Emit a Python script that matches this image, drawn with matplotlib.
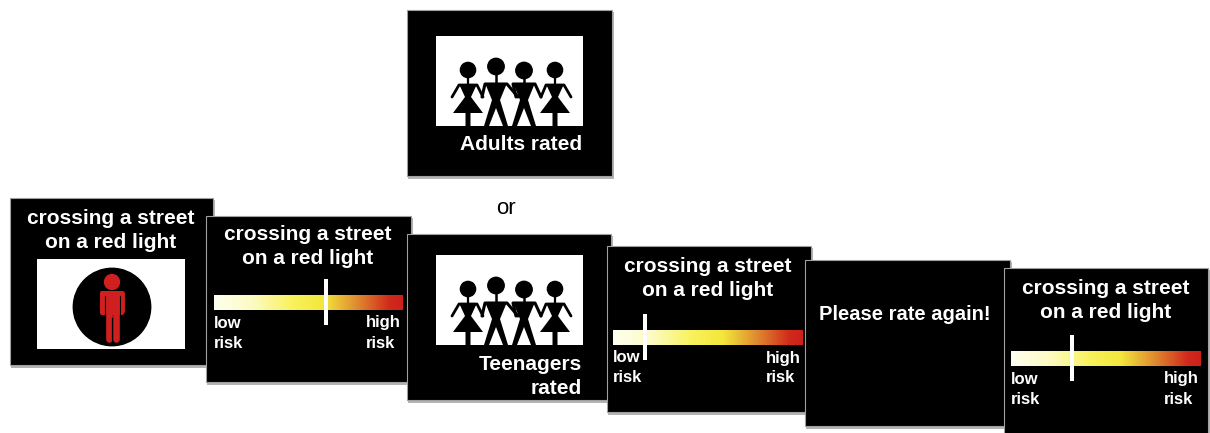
#!/usr/bin/env python3
# -*- coding: utf-8 -*-

import numpy as np
import matplotlib
matplotlib.use("Agg")
from matplotlib import pyplot as plt
import matplotlib.patches as patches
from matplotlib.colors import LinearSegmentedColormap

plt.rcParams['font.family'] = ['Liberation Sans', 'DejaVu Sans']

scenario_lines = ["crossing a street", "on a red light"]
slider_ratings = [0.59, 0.17, 0.32]
slider_ends = [("low", "risk"), ("high", "risk")]
group_labels = [["Adults rated"], ["Teenagers", "rated"]]
separator_word = "or"
prompt_text = "Please rate again!"
gradient_stops = ["#fffff0", "#fdfbc4", "#f8f25a", "#f3e63c", "#e08f30", "#d12a1c", "#cf1f1b"]
gradient_pos = [0.0, 0.2, 0.42, 0.58, 0.75, 0.93, 1.0]

RED = "#d01f1f"
risk_cmap = LinearSegmentedColormap.from_list("risk", list(zip(gradient_pos, gradient_stops)))


def slide(ax, x0, y0, x1, y1, z):
    # тень и чёрный прямоугольник слайда
    ax.add_patch(patches.Rectangle((x0 + 1, y0 + 2), x1 - x0 + 1, y1 - y0 + 1,
                                   facecolor="#b4b4b4", edgecolor="none", zorder=z))
    ax.add_patch(patches.Rectangle((x0, y0), x1 - x0, y1 - y0, linewidth=0.8,
                                   facecolor="black", edgecolor="#a0a0a0", zorder=z + 0.1))


def label(ax, x, y, text, z, size=15, ha="center"):
    ax.text(x, y + 2, text, color="white", fontsize=size, fontweight="bold",
            ha=ha, va="center", zorder=z + 0.5)


def scenario(ax, cx, y0, z):
    label(ax, cx, y0, scenario_lines[0], z)
    label(ax, cx, y0 + 25, scenario_lines[1], z)


def slider(ax, x0, x1, y0, rating, z):
    ax.imshow(np.linspace(0, 1, 256).reshape(1, -1), cmap=risk_cmap, aspect="auto",
              extent=(x0, x1, y0 + 15, y0), zorder=z + 0.2)
    pos = x0 + rating * (x1 - x0)
    ax.add_patch(patches.Rectangle((pos - 2, y0 - 16), 4, 46, facecolor="white",
                                   edgecolor="none", zorder=z + 0.3))
    label(ax, x0, y0 + 26, slider_ends[0][0], z, size=12, ha="left")
    label(ax, x0, y0 + 46, slider_ends[0][1], z, size=12, ha="left")
    label(ax, x1 - 37, y0 + 26, slider_ends[1][0], z, size=12, ha="left")
    label(ax, x1 - 37, y0 + 46, slider_ends[1][1], z, size=12, ha="left")


def stick(ax, xs, ys, dy, z, lw=3.0):
    ax.plot(xs, np.array(ys) + dy, color="black", lw=lw, solid_capstyle="round",
            solid_joinstyle="round", zorder=z)


def shape(ax, points, dy, z):
    ax.add_patch(patches.Polygon([(x, y + dy) for x, y in points], facecolor="black",
                                 edgecolor="none", zorder=z))


def woman(ax, cx, head_y, arm_l, arm_r, dy, z):
    ax.add_patch(patches.Circle((cx, head_y + dy), 7.6, color="black", zorder=z))
    stick(ax, [cx, cx], [head_y, 85], dy, z, lw=1.6)
    stick(ax, [arm_l, cx - 9, cx + 9, arm_r], [97, 85, 85, 97], dy, z, lw=2.0)
    shape(ax, [(cx - 9, 84), (cx + 9, 84), (cx + 3, 97), (cx + 15, 113), (cx + 2.5, 113),
               (cx + 2.5, 126), (cx - 2.5, 126), (cx - 2.5, 113), (cx - 15, 113), (cx - 3, 97)], dy, z)


def man(ax, cx, head_y, arm_l, arm_r, dy, z):
    ax.add_patch(patches.Circle((cx, head_y + dy), 8.2, color="black", zorder=z))
    stick(ax, [cx, cx], [head_y, 84], dy, z, lw=1.8)
    stick(ax, [arm_l, cx - 11, cx + 11, arm_r], [97, 84, 84, 97], dy, z, lw=2.2)
    shape(ax, [(cx - 11, 83), (cx + 11, 83), (cx + 4, 100), (cx + 12, 126), (cx + 7, 126),
               (cx, 108), (cx - 7, 126), (cx - 12, 126), (cx - 4, 100)], dy, z)


def people_picture(ax, dy, z):
    ax.add_patch(patches.Rectangle((436, 36 + dy), 147, 90, facecolor="white",
                                   edgecolor="none", zorder=z + 0.2))
    zz = z + 0.3
    woman(ax, 468, 70, 452, 483, dy, zz)
    man(ax, 496, 66.5, 482, 518, dy, zz)
    man(ax, 524, 70.5, 516, 541, dy, zz)
    woman(ax, 555, 70, 541, 571, dy, zz)


def red_man(ax, z):
    ax.add_patch(patches.Rectangle((37, 259), 148, 90, facecolor="white",
                                   edgecolor="none", zorder=z + 0.2))
    ax.add_patch(patches.Circle((112, 307), 38.7, color="black", zorder=z + 0.3))
    ax.add_patch(patches.Circle((112, 282), 7.5, color=RED, zorder=z + 0.4))
    ax.add_patch(patches.FancyBboxPatch((100, 291), 24, 24, boxstyle="round,pad=0,rounding_size=2",
                                        facecolor=RED, edgecolor="none", zorder=z + 0.4))
    for x in (102, 122):
        ax.plot([x, x], [293, 311], color=RED, lw=3.5, solid_capstyle="round", zorder=z + 0.4)
    for x in (108.5, 115.5):
        ax.plot([x, x], [305, 339], color=RED, lw=4.8, solid_capstyle="round", zorder=z + 0.4)
    # щели между руками и туловищем, между ногами
    for x in (104.5, 119.5):
        ax.plot([x, x], [296, 316], color="black", lw=0.8, zorder=z + 0.5)
    ax.plot([112, 112], [318, 342], color="black", lw=0.9, zorder=z + 0.5)


if __name__ == "__main__":

    fig = plt.figure(figsize=(12.1, 4.33), dpi=100)
    ax = fig.add_axes([0, 0, 1, 1])

    # первый слайд: сценарий и светофор
    slide(ax, 10, 198, 213, 365, 1)
    scenario(ax, 111, 216, 1)
    red_man(ax, 1)

    # первая оценка
    slide(ax, 206, 216, 411, 382, 2)
    scenario(ax, 308, 232, 2)
    slider(ax, 214, 403, 295, slider_ratings[0], 2)

    # группа сверстников: взрослые или подростки
    slide(ax, 407, 10, 612, 176, 3)
    people_picture(ax, 0, 3)
    label(ax, 582, 142, group_labels[0][0], 3, ha="right")
    ax.text(506, 208, separator_word, fontsize=16, color="black", ha="center", va="center")

    slide(ax, 407, 234, 611, 400, 4)
    people_picture(ax, 219, 4)
    label(ax, 582, 362, group_labels[1][0], 4, ha="right")
    label(ax, 582, 386, group_labels[1][1], 4, ha="right")

    # вторая оценка
    slide(ax, 607, 246, 811, 412, 5)
    scenario(ax, 708, 264, 5)
    slider(ax, 613, 803, 330, slider_ratings[1], 5)

    slide(ax, 805, 260, 1010, 426, 6)
    label(ax, 905, 312, prompt_text, 6, size=14.5)

    # третья оценка
    slide(ax, 1004, 268, 1208, 436, 7)
    scenario(ax, 1106, 286, 7)
    slider(ax, 1011, 1201, 351, slider_ratings[2], 7)

    ax.set_xlim(0, 1210)
    ax.set_ylim(433, 0)
    ax.axis("off")
    fig.savefig("out.png", dpi=100, facecolor="white")
